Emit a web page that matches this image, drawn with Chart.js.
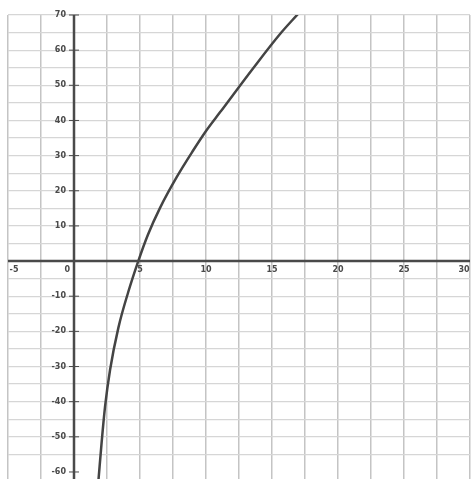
<!DOCTYPE html>
<html>
<head>
<meta charset="utf-8">
<script src="https://cdn.jsdelivr.net/npm/chart.js@4/dist/chart.umd.min.js"></script>
<style>
  html, body { margin: 0; padding: 0; background: #ffffff; }
  #wrap { width: 471px; height: 479px; position: relative; }
</style>
</head>
<body>
<div id="wrap"><canvas id="plot"></canvas></div>
<script>
// Points
const curveX = [1.86, 2.10, 2.35, 2.73, 3.36, 4.11, 4.87, 5.6, 6.5, 7.8, 9.0, 10.0, 11.06, 13.56, 15.61, 16.97];
const curveY = [-62, -51.3, -41.5, -31, -19, -8.8, 0, 7.5, 15, 24, 31.3, 37, 42.3, 54.8, 64.6, 70.3];

// Tick labels drawn next to the axes
const xTickLabels = [-5, 5, 10, 15, 20, 25, 30];
const yTickLabels = [70, 60, 50, 40, 30, 20, 10, -10, -20, -30, -40, -50, -60];

const INK = '#4a4a4a';

/**
 * Draws the two main axes through the origin and their labels
 */
const axesPlugin = {
    id: 'axesThroughOrigin',
    afterDatasetsDraw(chart) {
        const ctx = chart.ctx;
        const area = chart.chartArea;
        const xs = chart.scales.x;
        const ys = chart.scales.y;
        const x0 = xs.getPixelForValue(0);
        const y0 = ys.getPixelForValue(0);

        ctx.save();
        ctx.strokeStyle = INK;
        ctx.lineWidth = 2.5;
        ctx.beginPath();
        ctx.moveTo(x0, area.top);
        ctx.lineTo(x0, area.bottom);
        ctx.moveTo(area.left, y0);
        ctx.lineTo(area.right, y0);
        ctx.stroke();

        ctx.fillStyle = INK;
        ctx.font = 'bold 8px "DejaVu Sans"';

        // x labels below the axis
        ctx.textAlign = 'center';
        ctx.textBaseline = 'top';
        xTickLabels.forEach(v => {
            const px = xs.getPixelForValue(v);
            ctx.fillText(String(v), Math.min(Math.max(px, area.left + 6), area.right - 6), y0 + 5);
        });
        ctx.textAlign = 'right';
        ctx.fillText('0', x0 - 4, y0 + 5);

        // y labels left of the axis, with short tick marks
        ctx.textBaseline = 'middle';
        ctx.lineWidth = 1;
        yTickLabels.forEach(v => {
            const py = ys.getPixelForValue(v);
            ctx.fillText(String(v), x0 - 8, py);
            ctx.beginPath();
            ctx.moveTo(x0 - 5, py);
            ctx.lineTo(x0 + 5, py);
            ctx.stroke();
        });
        ctx.restore();
    }
};

const points = curveX.map((x, i) => ({ x: x, y: curveY[i] }));

new Chart(document.getElementById('plot'), {
    type: 'scatter',
    data: {
        datasets: [{
            data: points,
            showLine: true,
            borderColor: '#444444',
            borderWidth: 2.5,
            borderCapStyle: 'round',
            pointRadius: 0,
            cubicInterpolationMode: 'monotone'
        }]
    },
    options: {
        responsive: true,
        maintainAspectRatio: false,
        animation: false,
        layout: { padding: { left: 8, right: 1, top: 15, bottom: 0 } },
        plugins: {
            legend: { display: false },
            tooltip: { enabled: false }
        },
        scales: {
            x: {
                type: 'linear',
                min: -5,
                max: 30,
                ticks: { display: false, stepSize: 2.5 },
                grid: { color: '#c4c4c4', lineWidth: 1.5, drawTicks: false },
                border: { display: false }
            },
            y: {
                type: 'linear',
                min: -62,
                max: 70,
                afterBuildTicks: scale => {
                    scale.ticks = scale.ticks.filter(t => t.value % 5 === 0);
                },
                ticks: { display: false, stepSize: 5 },
                grid: { color: '#d6d6d6', lineWidth: 1.2, drawTicks: false },
                border: { display: false }
            }
        }
    },
    plugins: [axesPlugin]
});
</script>
</body>
</html>
